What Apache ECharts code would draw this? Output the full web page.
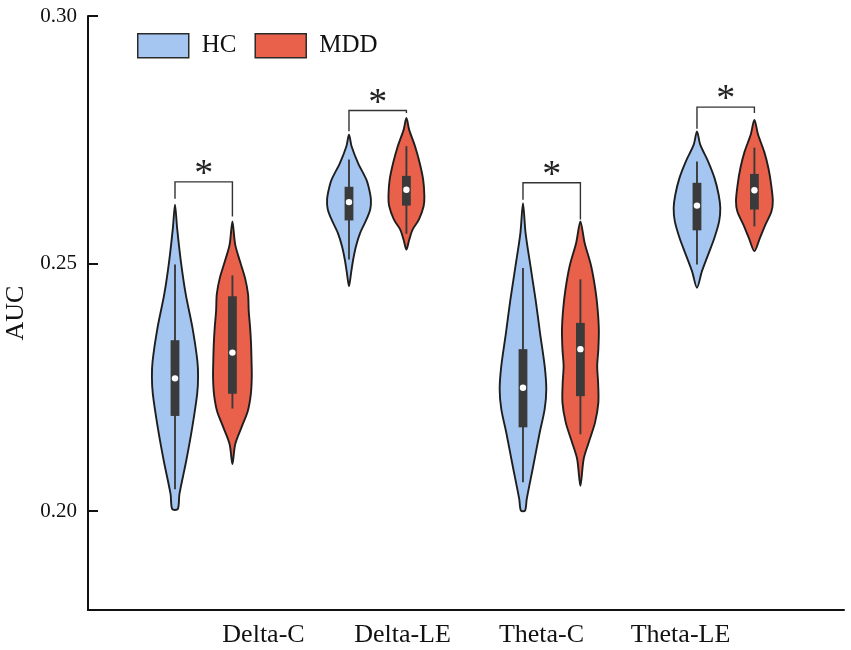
<!DOCTYPE html>
<html>
<head>
<meta charset="utf-8">
<title>AUC violin</title>
<script src="https://cdn.jsdelivr.net/npm/echarts@6/dist/echarts.min.js"></script>
<style>
  html, body { margin: 0; padding: 0; background: #fff; }
  #chart { width: 851px; height: 650px; }
</style>
</head>
<body>
<div id="chart"></div>
<script>
const categories = ['Delta-C', 'Delta-LE', 'Theta-C', 'Theta-LE']
const groups = ['HC', 'MDD']
const yTicks = [0.20, 0.25, 0.30]

// violin outlines: [AUC, relative density]
const hcDensity = [
  [[0.2619, 0], [0.2572, 0.09], [0.2505, 0.25], [0.2438, 0.46], [0.2370, 0.75], [0.2303, 0.96],
   [0.2270, 0.99], [0.2236, 0.95], [0.2169, 0.74], [0.2101, 0.48], [0.2034, 0.19], [0.2004, 0.12]],
  [[0.2760, 0], [0.2737, 0.11], [0.2703, 0.39], [0.2669, 0.75], [0.2649, 0.87], [0.2629, 0.94],
   [0.2609, 0.91], [0.2589, 0.75], [0.2562, 0.48], [0.2535, 0.30], [0.2508, 0.18], [0.2481, 0.09], [0.2454, 0]],
  [[0.2622, 0], [0.2562, 0.11], [0.2495, 0.32], [0.2427, 0.54], [0.2360, 0.73], [0.2293, 0.93],
   [0.2246, 1.00], [0.2206, 0.93], [0.2159, 0.72], [0.2091, 0.44], [0.2024, 0.16], [0.2001, 0.09]],
  [[0.2767, 0], [0.2740, 0.14], [0.2706, 0.48], [0.2673, 0.75], [0.2639, 0.93], [0.2612, 1.00],
   [0.2585, 0.95], [0.2552, 0.75], [0.2518, 0.48], [0.2484, 0.21], [0.2451, 0]]
]
const mddDensity = [
  [[0.2585, 0], [0.2538, 0.12], [0.2505, 0.32], [0.2471, 0.54], [0.2438, 0.67], [0.2404, 0.70],
   [0.2370, 0.76], [0.2337, 0.80], [0.2303, 0.82], [0.2270, 0.83], [0.2236, 0.79], [0.2202, 0.66],
   [0.2169, 0.39], [0.2135, 0.12], [0.2095, 0]],
  [[0.2794, 0], [0.2770, 0.12], [0.2737, 0.37], [0.2703, 0.57], [0.2669, 0.72], [0.2636, 0.77],
   [0.2616, 0.74], [0.2589, 0.54], [0.2569, 0.27], [0.2548, 0.12], [0.2528, 0]],
  [[0.2585, 0], [0.2542, 0.18], [0.2495, 0.46], [0.2448, 0.64], [0.2407, 0.74], [0.2367, 0.79],
   [0.2327, 0.77], [0.2293, 0.72], [0.2259, 0.76], [0.2219, 0.77], [0.2179, 0.63], [0.2139, 0.36],
   [0.2105, 0.14], [0.2051, 0]],
  [[0.2790, 0], [0.2760, 0.16], [0.2726, 0.42], [0.2693, 0.60], [0.2659, 0.72], [0.2626, 0.79],
   [0.2605, 0.73], [0.2579, 0.48], [0.2552, 0.24], [0.2525, 0]]
]

// [lower whisker, Q1, median, Q3, upper whisker]
const hcBox = [
  [0.2044, 0.2192, 0.2268, 0.2345, 0.2498],
  [0.2508, 0.2587, 0.2624, 0.2655, 0.2710],
  [0.2058, 0.2169, 0.2249, 0.2327, 0.2491],
  [0.2498, 0.2567, 0.2617, 0.2663, 0.2706]
]
const mddBox = [
  [0.2207, 0.2237, 0.2320, 0.2434, 0.2476],
  [0.2560, 0.2617, 0.2649, 0.2677, 0.2737],
  [0.2155, 0.2232, 0.2327, 0.2380, 0.2468],
  [0.2575, 0.2609, 0.2648, 0.2681, 0.2734]
]

// significance brackets: [category index, top, left end, right end]
const brackets = [
  [0, 0.2665, 0.2631, 0.2595],
  [1, 0.2809, 0.2767, 0.2804],
  [2, 0.2663, 0.2629, 0.2589],
  [3, 0.2816, 0.2772, 0.2804]
]

const FONT = "'Times New Roman', 'Liberation Serif', serif"
const HC_COLOR = '#a6c6f2'
const MDD_COLOR = '#e9604b'
const DARK = '#3a3a3a'
const MDD_OFFSET = 0.33
const VIOLIN_W = 0.134 // half width of the widest violin, in x units

const chart = echarts.init(document.getElementById('chart'))

function violinItem(density, boxes, color) {
  return function (params, api) {
    const i = params.dataIndex
    const x = api.value(0)
    const prof = density[i]
    const right = prof.map(d => api.coord([x + d[1] * VIOLIN_W, d[0]]))
    const left = prof.slice().reverse()
      .filter(d => d[1] > 0)
      .map(d => api.coord([x - d[1] * VIOLIN_W, d[0]]))
    const b = boxes[i]
    const wTop = api.coord([x, b[4]])
    const wBot = api.coord([x, b[0]])
    const q3 = api.coord([x, b[3]])
    const q1 = api.coord([x, b[1]])
    const med = api.coord([x, b[2]])
    return {
      type: 'group',
      children: [
        {
          type: 'polygon',
          shape: { points: right.concat(left), smooth: 0.3 },
          style: { fill: color, stroke: '#1e1e1e', lineWidth: 1.9 }
        },
        {
          type: 'line',
          shape: { x1: wTop[0], y1: wTop[1], x2: wBot[0], y2: wBot[1] },
          style: { stroke: DARK, lineWidth: 1.9 }
        },
        {
          type: 'rect',
          shape: { x: q3[0] - 4.4, y: q3[1], width: 8.8, height: q1[1] - q3[1] },
          style: { fill: DARK }
        },
        {
          type: 'circle',
          shape: { cx: med[0], cy: med[1], r: 3.2 },
          style: { fill: '#fff' }
        }
      ]
    }
  }
}

function bracketItem(params, api) {
  const xl = api.value(0) + 1
  const xr = xl + MDD_OFFSET
  const tl = api.coord([xl, api.value(1)])
  const tr = api.coord([xr, api.value(1)])
  const el = api.coord([xl, api.value(2)])
  const er = api.coord([xr, api.value(3)])
  return {
    type: 'group',
    children: [
      {
        type: 'polyline',
        shape: { points: [el, tl, tr, er] },
        style: { stroke: '#333', lineWidth: 1.4, fill: null }
      },
      {
        type: 'text',
        x: (tl[0] + tr[0]) / 2,
        y: tl[1] - 26,
        style: {
          text: '*', fontSize: 38, fontFamily: FONT, fill: '#222',
          align: 'center', verticalAlign: 'top'
        }
      }
    ]
  }
}

const option = {
  animation: false,
  legend: {
    left: 132,
    top: 28,
    itemWidth: 51,
    itemHeight: 24,
    itemGap: 18,
    icon: 'rect',
    textStyle: { fontFamily: FONT, fontSize: 25, color: '#111', padding: [0, 0, 0, 8] },
    data: [
      { name: groups[0], itemStyle: { color: HC_COLOR, borderColor: '#2a2a2a', borderWidth: 1.5 } },
      { name: groups[1], itemStyle: { color: MDD_COLOR, borderColor: '#2a2a2a', borderWidth: 1.5 } }
    ]
  },
  grid: [
    { left: 88, right: 7, top: 16, bottom: 40, outerBoundsMode: 'none' },
    { left: 194, width: 556, top: 16, bottom: 40, outerBoundsMode: 'none' }
  ],
  xAxis: [
    {
      type: 'value',
      gridIndex: 0,
      min: 0.5,
      max: 4.845,
      axisLine: { lineStyle: { color: '#111', width: 2 } },
      axisTick: { show: false },
      axisLabel: { show: false },
      splitLine: { show: false }
    },
    {
      type: 'category',
      gridIndex: 1,
      data: categories,
      axisLine: { show: false },
      axisTick: { show: false },
      axisLabel: { fontFamily: FONT, fontSize: 26, color: '#111', margin: 12 }
    }
  ],
  yAxis: [
    {
      type: 'value',
      gridIndex: 0,
      min: 0.18,
      max: 0.30,
      name: 'AUC',
      nameLocation: 'middle',
      nameGap: 57,
      nameTextStyle: { fontFamily: FONT, fontSize: 26, color: '#111' },
      axisLine: { show: true, lineStyle: { color: '#111', width: 2 } },
      axisTick: { show: true, inside: true, length: 10, customValues: yTicks, lineStyle: { color: '#111', width: 2 } },
      axisLabel: {
        customValues: yTicks,
        fontFamily: FONT, fontSize: 21, color: '#111', margin: 11,
        formatter: v => v.toFixed(2)
      },
      splitLine: { show: false }
    },
    { type: 'value', gridIndex: 1, show: false }
  ],
  series: [
    {
      name: groups[0],
      type: 'custom',
      xAxisIndex: 0,
      yAxisIndex: 0,
      itemStyle: { color: HC_COLOR },
      renderItem: violinItem(hcDensity, hcBox, HC_COLOR),
      data: categories.map((c, i) => [i + 1, hcBox[i][2]])
    },
    {
      name: groups[1],
      type: 'custom',
      xAxisIndex: 0,
      yAxisIndex: 0,
      itemStyle: { color: MDD_COLOR },
      renderItem: violinItem(mddDensity, mddBox, MDD_COLOR),
      data: categories.map((c, i) => [i + 1 + MDD_OFFSET, mddBox[i][2]])
    },
    {
      type: 'custom',
      xAxisIndex: 0,
      yAxisIndex: 0,
      renderItem: bracketItem,
      data: brackets
    }
  ]
}

chart.setOption(option)
</script>
</body>
</html>
